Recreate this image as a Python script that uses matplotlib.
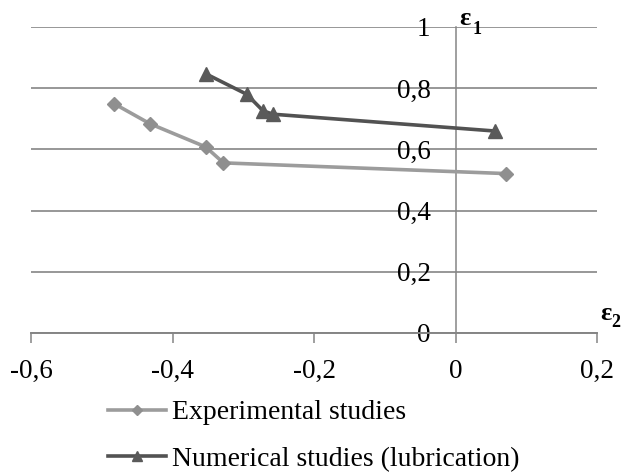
import matplotlib
matplotlib.use("Agg")
import matplotlib.pyplot as plt

plt.rcParams['font.family'] = ['Liberation Serif', 'DejaVu Serif']

# strain path data (eps2, eps1)
exp_e2 = [-0.483, -0.432, -0.353, -0.328, 0.071]
exp_e1 = [0.750, 0.684, 0.608, 0.556, 0.521]

num_e2 = [-0.352, -0.295, -0.272, -0.258, 0.056]
num_e1 = [0.846, 0.780, 0.726, 0.715, 0.660]

x_ticks = [-0.6, -0.4, -0.2, 0, 0.2]
x_labels = ['-0,6', '-0,4', '-0,2', '0', '0,2']
y_ticks = [0, 0.2, 0.4, 0.6, 0.8, 1]
y_labels = ['0', '0,2', '0,4', '0,6', '0,8', '1']

series_names = ['Experimental studies', 'Numerical studies (lubrication)']

fig = plt.figure(figsize=(6.22, 4.72), dpi=100)
ax = fig.add_axes([31 / 622, 139 / 472, 566 / 622, 306 / 472])

grid_c = '#858585'

ax.plot(exp_e2, exp_e1, color='#9c9c9c', lw=2.6, marker='D', ms=7,
        markerfacecolor='#8f8f8f', markeredgecolor='#8f8f8f', label=series_names[0], zorder=3)
ax.plot(num_e2, num_e1, color='#525252', lw=2.6, marker='^', ms=9.5,
        markerfacecolor='#5a5a5a', markeredgecolor='#5a5a5a', label=series_names[1], zorder=3)

ax.set_xlim(-0.6, 0.2)
ax.set_ylim(0, 1)

ax.spines['top'].set_visible(False)
ax.spines['right'].set_visible(False)
ax.spines['left'].set_position(('data', 0))
ax.spines['left'].set_color(grid_c)
ax.spines['bottom'].set_color(grid_c)
ax.spines['left'].set_linewidth(1.1)
ax.spines['bottom'].set_linewidth(1.4)

ax.set_xticks(x_ticks)
ax.set_xticklabels(x_labels)
ax.set_yticks(y_ticks)
ax.set_yticklabels(y_labels)
ax.tick_params(axis='x', direction='out', length=7, width=1.1, color=grid_c,
               pad=12, labelsize=19.5)
ax.tick_params(axis='y', length=0, pad=18, labelsize=19.5)

ax.yaxis.grid(True, color=grid_c, lw=1.2)
ax.set_axisbelow(True)

# axis symbols
ax.text(0.005, 1.006, 'ε', fontsize=19, fontweight='bold', ha='left', va='baseline')
ax.text(0.0235, 0.978, '1', fontsize=13, fontweight='bold', ha='left', va='baseline')
ax.text(0.2045, 0.042, 'ε', fontsize=19, fontweight='bold', ha='left', va='baseline', clip_on=False)
ax.text(0.2205, 0.018, '2', fontsize=13, fontweight='bold', ha='left', va='baseline', clip_on=False)

fig.legend(loc='upper left', bbox_to_anchor=(108 / 622, 1 - 400 / 472), frameon=False,
           fontsize=20, handlelength=2.1, handletextpad=0.2, labelspacing=0.75,
           borderpad=0, borderaxespad=0, markerscale=0.8)

fig.savefig('out.png', dpi=100)
